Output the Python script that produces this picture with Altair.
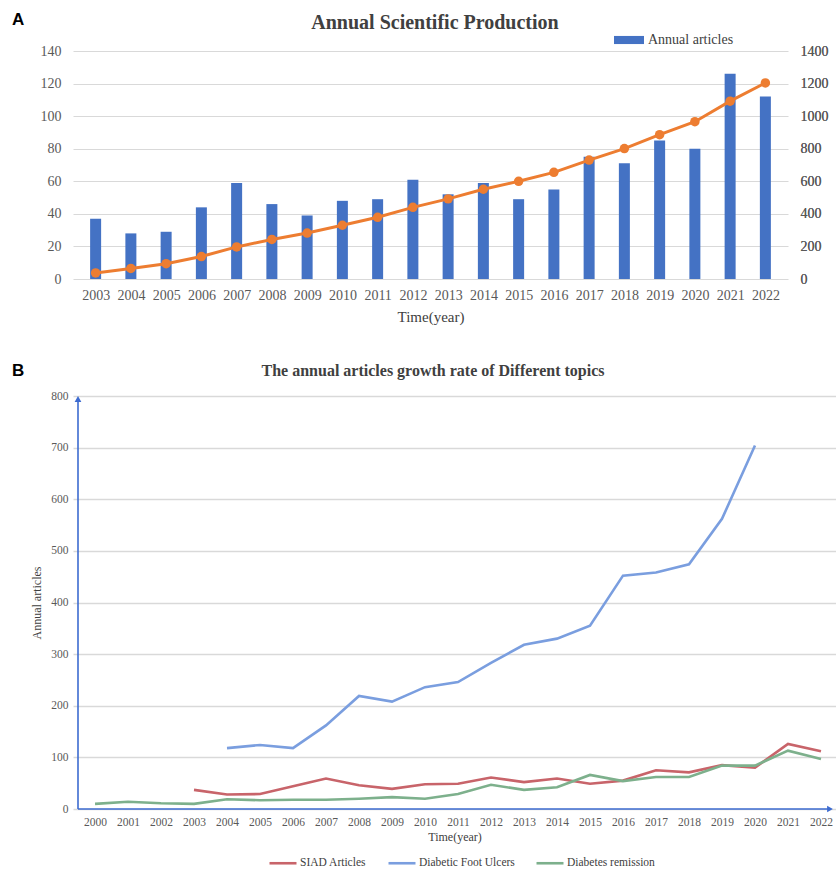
import altair as alt
import pandas as pd

# ---------------- data ----------------
# Panel A: annual scientific production
years_a = [2003, 2004, 2005, 2006, 2007, 2008, 2009, 2010, 2011, 2012,
           2013, 2014, 2015, 2016, 2017, 2018, 2019, 2020, 2021, 2022]
annual_articles = [37, 28, 29, 44, 59, 46, 39, 48, 49, 61,
                   52, 59, 49, 55, 75, 71, 85, 80, 126, 112]
cumulative_articles = [37, 65, 94, 138, 197, 243, 282, 330, 379, 440,
                       492, 551, 600, 655, 730, 801, 886, 966, 1092, 1204]
bar_series = "Annual articles"

# Panel B: annual articles of different topics
years_b = [2000, 2001, 2002, 2003, 2004, 2005, 2006, 2007, 2008, 2009, 2010, 2011,
           2012, 2013, 2014, 2015, 2016, 2017, 2018, 2019, 2020, 2021, 2022]
siad_years = years_a
siad_articles = annual_articles
dfu_years = [2004, 2005, 2006, 2007, 2008, 2009, 2010, 2011, 2012,
             2013, 2014, 2015, 2016, 2017, 2018, 2019, 2020]
dfu_articles = [118, 124, 118, 162, 219, 208, 236, 246, 283,
                318, 330, 355, 452, 458, 474, 562, 704]
remission_years = years_b
remission_articles = [10, 14, 11, 10, 19, 17, 18, 18, 20, 23, 20, 29,
                      47, 37, 42, 66, 54, 62, 62, 84, 84, 113, 97]
topics = ["SIAD Articles", "Diabetic Foot Ulcers", "Diabetes remission"]
topic_colors = ["#C8646A", "#7A9EDF", "#7DB08C"]

yticks_a_left = [0, 20, 40, 60, 80, 100, 120, 140]
yticks_a_right = [0, 200, 400, 600, 800, 1000, 1200, 1400]
yticks_b = [0, 100, 200, 300, 400, 500, 600, 700, 800]

title_a = "Annual Scientific Production"
title_b = "The annual articles growth rate of Different topics"

# ---------------- styling ----------------
SERIF = "Liberation Serif"
SANS = "Liberation Sans"
LABEL_GRAY = "#595959"
GRID_GRAY = "#D9D9D9"
TITLE_GRAY = "#404040"
BAR_BLUE = "#4472C4"
ORANGE = "#ED7D31"
AXIS_BLUE = "#3D6BD0"

W_A, H_A = 715, 228
W_B, H_B = 763, 413

one_row = pd.DataFrame({"k": [0]})

# ---------------- panel A ----------------
df_a = pd.DataFrame({
    "year": years_a,
    "articles": annual_articles,
    "cumulative": cumulative_articles,
    "series": [bar_series] * len(years_a),
})

x_a = alt.X(
    "year:Q",
    scale=alt.Scale(domain=[2002.5, 2022.5], nice=False, zero=False),
    axis=alt.Axis(
        values=years_a, format="d", title="Time(year)",
        labelFont=SERIF, labelFontSize=14, labelColor=LABEL_GRAY, labelPadding=9,
        labelFlush=False, labelOverlap=False,
        ticks=False, domain=False, grid=False,
        titleFont=SERIF, titleFontSize=15, titleFontWeight="normal",
        titleColor=TITLE_GRAY, titlePadding=7,
    ),
)

bars = alt.Chart(df_a).mark_bar(size=11).encode(
    x=x_a,
    y=alt.Y(
        "articles:Q",
        scale=alt.Scale(domain=[0, 140], nice=False),
        axis=alt.Axis(
            values=yticks_a_left, title=None, grid=True, gridColor=GRID_GRAY,
            gridWidth=1.2, domain=False, ticks=False, labelPadding=12,
            labelFont=SERIF, labelFontSize=14, labelColor=LABEL_GRAY,
        ),
    ),
    color=alt.Color(
        "series:N",
        scale=alt.Scale(domain=[bar_series], range=[BAR_BLUE]),
        legend=alt.Legend(
            title=None, orient="none", legendX=541, legendY=-26,
            symbolType="M-1,-0.27H1V0.27H-1Z", symbolSize=900,
            symbolStrokeWidth=0, labelOffset=4,
            labelFont=SERIF, labelFontSize=14, labelColor=TITLE_GRAY,
        ),
    ),
)

y_cum = alt.Y(
    "cumulative:Q",
    scale=alt.Scale(domain=[0, 1400], nice=False),
    axis=alt.Axis(
        orient="right", values=yticks_a_right, format="d", title=None, grid=False,
        domain=False, ticks=False, labelPadding=12,
        labelFont=SERIF, labelFontSize=14, labelColor=LABEL_GRAY,
    ),
)

cum_line = alt.Chart(df_a).mark_line(color=ORANGE, strokeWidth=3).encode(x=x_a, y=y_cum)
cum_points = alt.Chart(df_a).mark_point(
    filled=True, size=90, color=ORANGE, opacity=1
).encode(x=x_a, y=y_cum)

heading_a = alt.Chart(pd.DataFrame({"t": [title_a]})).mark_text(
    font=SERIF, fontSize=20, fontWeight="bold", color=TITLE_GRAY,
    align="center", baseline="middle",
).encode(text="t:N", x=alt.value(362), y=alt.value(-28))

tag_a = alt.Chart(pd.DataFrame({"t": ["A"]})).mark_text(
    font=SANS, fontSize=17, fontWeight="bold", color="black",
    align="left", baseline="middle",
).encode(text="t:N", x=alt.value(-61), y=alt.value(-31))

panel_a = alt.layer(bars, cum_line, cum_points, heading_a, tag_a).resolve_scale(
    y="independent"
).properties(width=W_A, height=H_A)

# ---------------- panel B ----------------
df_b = pd.concat([
    pd.DataFrame({"year": siad_years, "value": siad_articles, "topic": topics[0]}),
    pd.DataFrame({"year": dfu_years, "value": dfu_articles, "topic": topics[1]}),
    pd.DataFrame({"year": remission_years, "value": remission_articles, "topic": topics[2]}),
], ignore_index=True)

x_b = alt.X(
    "year:Q",
    scale=alt.Scale(domain=[1999.333, 2022.455], nice=False, zero=False),
    axis=alt.Axis(
        values=years_b, format="d", title="Time(year)",
        labelFont=SERIF, labelFontSize=11.5, labelColor=LABEL_GRAY, labelPadding=7,
        labelFlush=False, labelOverlap=False,
        ticks=False, domain=False, grid=False,
        titleFont=SERIF, titleFontSize=12, titleFontWeight="normal",
        titleColor=TITLE_GRAY, titlePadding=4,
    ),
)

y_b = alt.Y(
    "value:Q",
    scale=alt.Scale(domain=[0, 800], nice=False),
    axis=alt.Axis(
        values=yticks_b, title="Annual articles", grid=True, gridColor=GRID_GRAY,
        gridWidth=1.3, domain=False, ticks=False, labelPadding=5,
        labelFont=SERIF, labelFontSize=11.5, labelColor=LABEL_GRAY,
        titleFont=SERIF, titleFontSize=12, titleFontWeight="normal",
        titleColor=TITLE_GRAY, titlePadding=7,
    ),
)

topic_lines = alt.Chart(df_b).mark_line(strokeWidth=2.6).encode(
    x=x_b,
    y=y_b,
    color=alt.Color(
        "topic:N",
        scale=alt.Scale(domain=topics, range=topic_colors),
        sort=topics,
        legend=alt.Legend(
            title=None, orient="none", direction="horizontal",
            legendX=195, legendY=452,
            symbolType="stroke", symbolSize=729, symbolStrokeWidth=2.6,
            labelOffset=2, columnPadding=16,
            labelFont=SERIF, labelFontSize=11.5, labelColor=TITLE_GRAY,
        ),
    ),
)

# blue axis lines with arrow heads
y_axis_line = alt.Chart(one_row).mark_rule(color=AXIS_BLUE, strokeWidth=1.6).encode(
    x=alt.value(5), y=alt.value(4), y2=alt.value(H_B)
)
x_axis_line = alt.Chart(one_row).mark_rule(color=AXIS_BLUE, strokeWidth=1.6).encode(
    x=alt.value(5), x2=alt.value(755), y=alt.value(H_B)
)
y_arrow = alt.Chart(one_row).mark_point(
    shape="triangle-up", filled=True, size=45, color=AXIS_BLUE, opacity=1
).encode(x=alt.value(5), y=alt.value(3))
x_arrow = alt.Chart(one_row).mark_point(
    shape="triangle-right", filled=True, size=45, color=AXIS_BLUE, opacity=1
).encode(x=alt.value(757), y=alt.value(H_B))

heading_b = alt.Chart(pd.DataFrame({"t": [title_b]})).mark_text(
    font=SERIF, fontSize=16, fontWeight="bold", color=TITLE_GRAY,
    align="center", baseline="middle",
).encode(text="t:N", x=alt.value(360), y=alt.value(-25))

tag_b = alt.Chart(pd.DataFrame({"t": ["B"]})).mark_text(
    font=SANS, fontSize=17, fontWeight="bold", color="black",
    align="left", baseline="middle",
).encode(text="t:N", x=alt.value(-61), y=alt.value(-25))

panel_b = alt.layer(
    topic_lines, y_axis_line, x_axis_line, y_arrow, x_arrow, heading_b, tag_b
).properties(width=W_B, height=H_B)

chart = alt.vconcat(panel_a, panel_b, spacing=38).resolve_scale(
    color="independent", x="independent", y="independent"
).properties(
    padding={"left": 12, "top": 11, "right": 0, "bottom": 0},
    background="white",
).configure_view(stroke=None)

chart.save("out.html", embed_options={"renderer": "svg", "actions": False})
